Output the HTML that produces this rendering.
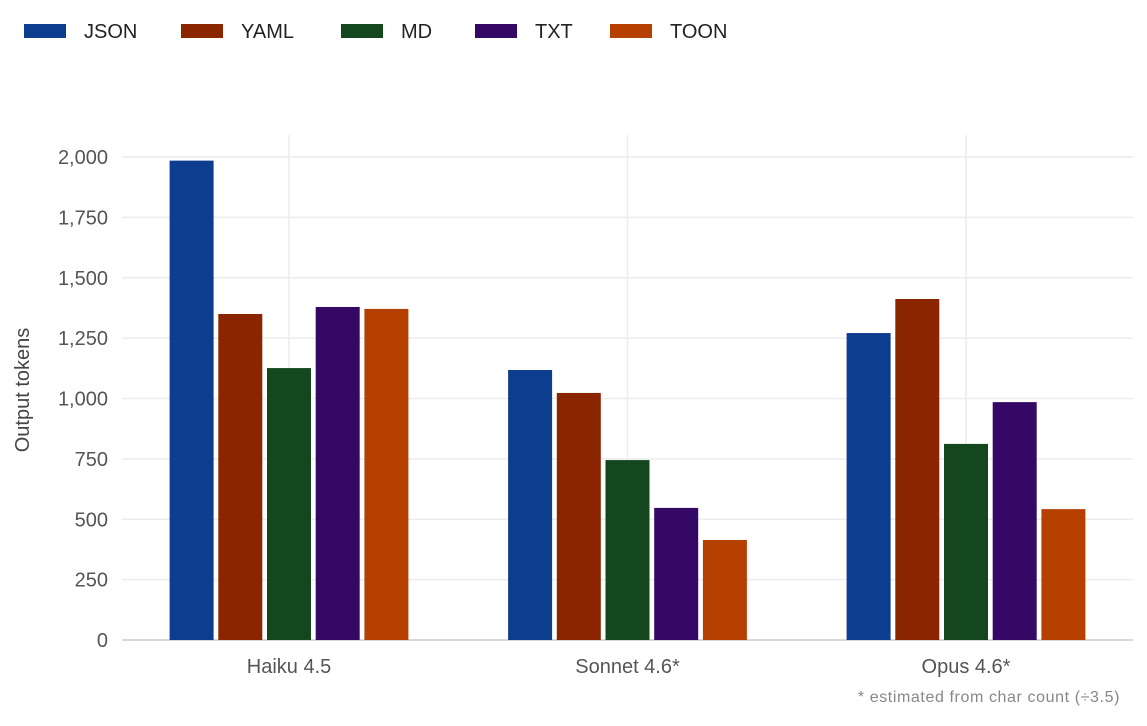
<!DOCTYPE html>
<html><head><meta charset="utf-8"><style>
body{margin:0;background:#fff;width:1147px;height:721px;overflow:hidden;font-family:"Liberation Sans",sans-serif}
svg text{font-family:"Liberation Sans",sans-serif}
</style></head><body>
<svg id="chart" width="1147" height="721"></svg>
<script>
const categories=["Haiku 4.5","Sonnet 4.6*","Opus 4.6*"];
const seriesNames=["JSON","YAML","MD","TXT","TOON"];
const jsonVals=[1985,1118,1271];
const yamlVals=[1350,1023,1412];
const mdVals=[1126,745,812];
const txtVals=[1379,547,985];
const toonVals=[1371,414,542];
const yTicks=[0,250,500,750,1000,1250,1500,1750,2000];
const seriesVals=[jsonVals,yamlVals,mdVals,txtVals,toonVals];
const colors=["#0d3d8f","#8b2500","#14471e","#360866","#b54000"];
const NS="http://www.w3.org/2000/svg";
const svg=document.getElementById('chart');
const L=122,R=1133,T=135,B=640,yMax=2000,topY=157;
const bandL=119.75,bandR=1135.25;
const y=v=>B-(v/yMax)*(B-topY);
const band=(bandR-bandL)/categories.length;
const xc=i=>bandL+band*(i+0.5);
function mk(tag,a,txt){const e=document.createElementNS(NS,tag);for(const k in a)e.setAttribute(k,a[k]);if(txt!=null)e.textContent=txt;svg.appendChild(e);return e;}
yTicks.forEach(t=>{
 const g=mk('line',{x1:L,x2:R,y1:y(t),y2:y(t),stroke:t===0?'#ccc':'#ececec','stroke-width':1.5});
 
 
 const lb=mk('text',{x:108,y:y(t)+7,'text-anchor':'end','font-size':20,fill:'#555'},t.toLocaleString('en-US'));
 
 
});
categories.forEach((c,i)=>{
 const g=mk('line',{x1:xc(i),x2:xc(i),y1:T,y2:B,stroke:'#ececec','stroke-width':1.5});
 
 
 const lb=mk('text',{x:xc(i),y:673,'text-anchor':'middle','font-size':20,fill:'#555'},c);
 
 
});
const bw=44,step=48.7;
seriesVals.forEach((vals,s)=>{
 vals.forEach((v,i)=>{
  const x=xc(i)+(s-2)*step-bw/2;
  const r=mk('rect',{x:x,y:y(v),width:bw,height:B-y(v),fill:colors[s]});
  
  
 });
});
const yt=mk('text',{x:0,y:0,transform:'translate(29,390) rotate(-90)','text-anchor':'middle','font-size':20,fill:'#444'},'Output tokens');


const fn=mk('text',{x:1120,y:702,'text-anchor':'end','font-size':16,'letter-spacing':0.6,fill:'#888'},'* estimated from char count (÷3.5)');


const legX=[24,181,341,475,610];
seriesNames.forEach((n,s)=>{
 const sw=mk('rect',{x:legX[s],y:24,width:42,height:14,fill:colors[s]});
 
 
 const t=mk('text',{x:legX[s]+60,y:38,'font-size':20,fill:'#222'},n);
 
 
});
</script>
</body></html>
